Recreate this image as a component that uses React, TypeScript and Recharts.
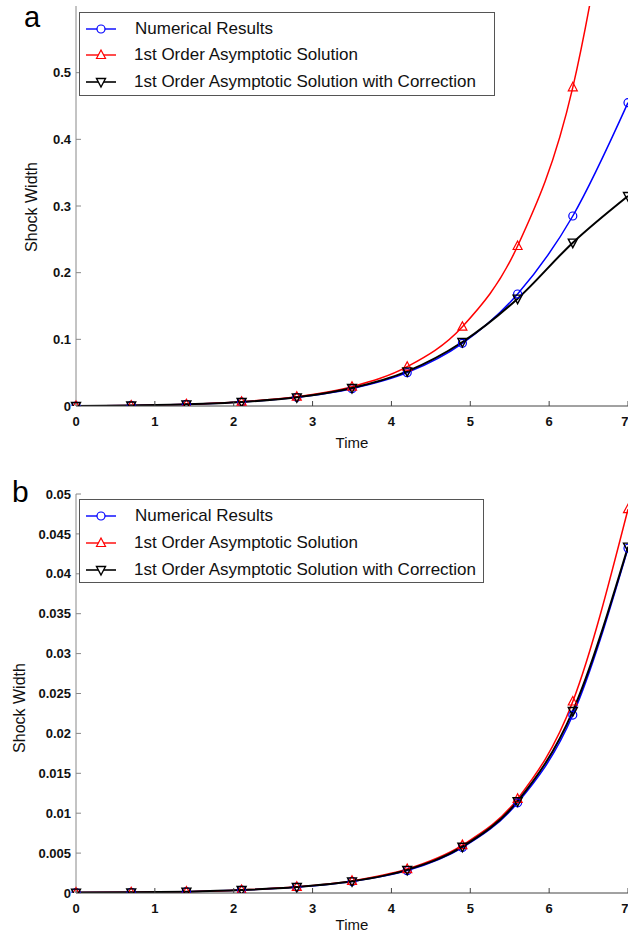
import React from 'react';
import { LineChart, Line, XAxis, YAxis } from 'recharts';

const times = [0, 0.7, 1.4, 2.1, 2.8, 3.5, 4.2, 4.9, 5.6, 6.3, 7.0];

// Panel a
const aNumerical = [0, 0.0008, 0.0025, 0.006, 0.013, 0.026, 0.05, 0.094, 0.168, 0.285, 0.455];
const aFirstOrder = [0, 0.0008, 0.0026, 0.0065, 0.014, 0.029, 0.059, 0.119, 0.24, 0.478, 0.95];
const aCorrected = [0, 0.0008, 0.0025, 0.006, 0.013, 0.027, 0.052, 0.096, 0.161, 0.245, 0.315];

// Panel b
const bNumerical = [0.00005, 0.00008, 0.00017, 0.00037, 0.00075, 0.00145, 0.0028, 0.0057, 0.0113, 0.0223, 0.0432];
const bFirstOrder = [0.00005, 0.00008, 0.00017, 0.00038, 0.00078, 0.00152, 0.003, 0.006, 0.0118, 0.024, 0.0481];
const bCorrected = [0.00005, 0.00008, 0.00017, 0.00037, 0.00075, 0.00146, 0.0029, 0.0058, 0.0115, 0.0228, 0.0434];

const xTicks = [0, 1, 2, 3, 4, 5, 6, 7];
const aYTicks = [0, 0.1, 0.2, 0.3, 0.4, 0.5];
const bYTicks = [0, 0.005, 0.01, 0.015, 0.02, 0.025, 0.03, 0.035, 0.04, 0.045, 0.05];

const seriesNames = [
  'Numerical Results',
  '1st Order Asymptotic Solution',
  '1st Order Asymptotic Solution with Correction',
];
const seriesColors = ['#0000ff', '#ff0000', '#000000'];

const FONT = '"Liberation Sans", Arial, Helvetica, sans-serif';

function buildRows(n: number[], f: number[], c: number[]) {
  return times.map((t, i) => ({ t, num: n[i], first: f[i], corr: c[i] }));
}
const aRows = buildRows(aNumerical, aFirstOrder, aCorrected);
const bRows = buildRows(bNumerical, bFirstOrder, bCorrected);

const circleDot = (color: string) => (props: any) => {
  const { cx, cy, index } = props;
  if (cx == null || cy == null) return <g key={`c${index}`} />;
  return <circle key={`c${index}`} cx={cx} cy={cy} r={4} fill="none" stroke={color} strokeWidth={1.2} />;
};
const triUpDot = (color: string) => (props: any) => {
  const { cx, cy, index } = props;
  if (cx == null || cy == null) return <g key={`u${index}`} />;
  return (
    <path
      key={`u${index}`}
      d={`M${cx},${cy - 5} L${cx + 4.5},${cy + 3.5} L${cx - 4.5},${cy + 3.5} Z`}
      fill="none"
      stroke={color}
      strokeWidth={1.2}
    />
  );
};
const triDownDot = (color: string) => (props: any) => {
  const { cx, cy, index } = props;
  if (cx == null || cy == null) return <g key={`d${index}`} />;
  return (
    <path
      key={`d${index}`}
      d={`M${cx},${cy + 5} L${cx + 4.5},${cy - 3.5} L${cx - 4.5},${cy - 3.5} Z`}
      fill="none"
      stroke={color}
      strokeWidth={1.4}
    />
  );
};

function LegendMarker({ i }: { i: number }) {
  const color = seriesColors[i];
  return (
    <svg width={50} height={26} style={{ display: 'block' }}>
      <line x1={6} y1={13} x2={36} y2={13} stroke={color} strokeWidth={i === 2 ? 1.6 : 1.4} />
      {i === 0 && <circle cx={21} cy={13} r={4} fill="#fff" stroke={color} strokeWidth={1.2} />}
      {i === 1 && <path d="M21,8 L25.5,16.5 L16.5,16.5 Z" fill="#fff" stroke={color} strokeWidth={1.2} />}
      {i === 2 && <path d="M21,18 L25.5,9.5 L16.5,9.5 Z" fill="#fff" stroke={color} strokeWidth={1.4} />}
    </svg>
  );
}

function LegendBox({ left, top, width, height, rowYs }: { left: number; top: number; width: number; height: number; rowYs: number[] }) {
  return (
    <div
      style={{
        position: 'absolute',
        left,
        top,
        width,
        height,
        border: '1px solid #555',
        boxSizing: 'border-box',
        background: '#fff',
        fontFamily: FONT,
        fontSize: 17,
        color: '#111',
      }}
    >
      {seriesNames.map((name, i) => (
        <div
          key={name}
          style={{
            position: 'absolute',
            left: 0,
            top: rowYs[i] - 13,
            height: 26,
            display: 'flex',
            alignItems: 'center',
            whiteSpace: 'nowrap',
          }}
        >
          <LegendMarker i={i} />
          <span style={{ marginLeft: i === 0 ? 5 : 4 }}>{name}</span>
        </div>
      ))}
    </div>
  );
}

const yLabel = (x: number, y: number) => ({
  content: () => (
    <text
      x={x}
      y={y}
      transform={`rotate(-90 ${x} ${y})`}
      textAnchor="middle"
      fontSize={16}
      fontFamily={FONT}
      fill="#111"
    >
      Shock Width
    </text>
  ),
});

const tickStyle = { fontSize: 13, fontFamily: FONT, fill: '#111', fontWeight: 'bold' as const };

function Panel({
  rows,
  yMax,
  yTicks,
  marginTop,
  xAxisHeight,
  timeOffset,
  yLabelX,
  yLabelY,
}: {
  rows: any[];
  yMax: number;
  yTicks: number[];
  marginTop: number;
  xAxisHeight: number;
  timeOffset: number;
  yLabelX: number;
  yLabelY: number;
}) {
  return (
    <LineChart width={628} height={468} data={rows} margin={{ top: marginTop, right: 0, bottom: 0, left: 0 }}>
      <XAxis
        dataKey="t"
        type="number"
        domain={[0, 7]}
        ticks={xTicks}
        height={xAxisHeight}
        stroke="#444"
        tickSize={-5}
        tickMargin={16}
        tick={tickStyle}
        label={{ value: 'Time', position: 'insideBottom', offset: timeOffset, fontSize: 15, fontFamily: FONT, fill: '#111' }}
      />
      <YAxis
        type="number"
        domain={[0, yMax]}
        allowDataOverflow
        ticks={yTicks}
        width={76}
        stroke="#888"
        tickSize={-5}
        tickMargin={10}
        tick={tickStyle}
        tickFormatter={(v: number) => String(v)}
        label={yLabel(yLabelX, yLabelY)}
      />
      <Line
        type="monotone"
        dataKey="num"
        stroke={seriesColors[0]}
        strokeWidth={1.5}
        dot={circleDot(seriesColors[0])}
        isAnimationActive={false}
      />
      <Line
        type="monotone"
        dataKey="first"
        stroke={seriesColors[1]}
        strokeWidth={1.5}
        dot={triUpDot(seriesColors[1])}
        isAnimationActive={false}
      />
      <Line
        type="monotone"
        dataKey="corr"
        stroke={seriesColors[2]}
        strokeWidth={2}
        dot={triDownDot(seriesColors[2])}
        isAnimationActive={false}
      />
    </LineChart>
  );
}

export default function App() {
  return (
    <div style={{ position: 'absolute', left: 0, top: 0, width: 628, height: 936, background: '#fff', overflow: 'hidden' }}>
      <div style={{ position: 'absolute', left: 0, top: 0 }}>
        <Panel
          rows={aRows}
          yMax={0.6}
          yTicks={aYTicks}
          marginTop={6}
          xAxisHeight={62}
          timeOffset={20}
          yLabelX={37}
          yLabelY={207}
        />
      </div>
      <div style={{ position: 'absolute', left: 0, top: 468 }}>
        <Panel
          rows={bRows}
          yMax={0.05}
          yTicks={bYTicks}
          marginTop={26}
          xAxisHeight={43}
          timeOffset={6}
          yLabelX={25}
          yLabelY={240}
        />
      </div>
      <LegendBox left={79} top={12} width={416} height={84} rowYs={[16, 42, 69]} />
      <LegendBox left={79} top={499} width={405} height={84} rowYs={[16, 43, 70]} />
      <div style={{ position: 'absolute', left: 24, top: 1, fontFamily: FONT, fontSize: 29, lineHeight: 'normal', color: '#000' }}>a</div>
      <div style={{ position: 'absolute', left: 12, top: 475, fontFamily: FONT, fontSize: 30, lineHeight: 'normal', color: '#000' }}>b</div>
    </div>
  );
}
